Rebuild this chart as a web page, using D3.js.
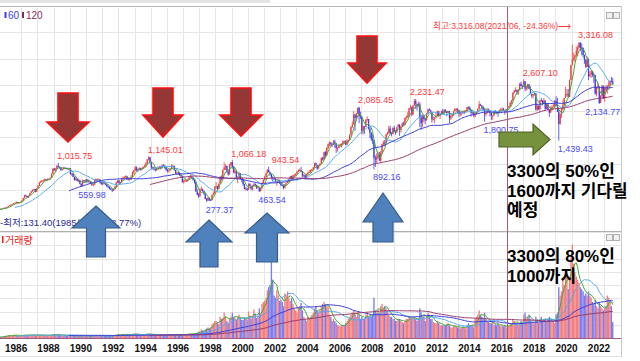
<!DOCTYPE html>
<html><head><meta charset="utf-8">
<script src="https://cdn.jsdelivr.net/npm/d3@7"></script>
<style>body{margin:0;background:#fff;}svg{display:block;}</style>
</head><body><svg id="c" width="640" height="361"></svg>
<script>
// ---------------- DATA (monthly, from 1985-01) ----------------
const firstMonth = [1985, 0];
const firstOpen = 142;
const close = [
139,135,133,137,140,137,139,139,138,142,150,163,
160,175,195,210,222,228,250,258,270,250,262,272,
300,345,400,385,360,390,440,475,500,520,465,525,
575,640,660,670,680,700,690,700,710,730,810,907,
880,900,960,940,925,880,900,925,915,910,905,909,
800,810,750,690,720,670,690,620,580,680,665,696,
690,660,660,620,600,600,700,680,700,700,640,610,
650,630,610,570,550,530,510,490,520,560,640,678,
630,640,720,730,740,760,700,720,700,750,830,866,
930,890,880,920,890,910,940,960,1010,1080,1120,1027,
930,930,900,880,900,920,930,920,970,960,920,882,
870,880,900,960,960,880,820,830,820,780,760,651,
680,680,680,700,740,750,740,690,650,470,410,376,
506,514,481,433,333,297,350,311,310,408,434,562,
570,520,620,750,720,880,930,960,850,800,980,1028,
940,830,860,720,730,820,710,690,610,520,530,504,
620,580,520,580,610,590,540,550,480,530,630,694,
750,820,880,840,800,740,720,710,650,660,680,628,
590,580,540,600,630,670,710,760,700,780,790,810,
850,880,880,860,770,780,720,800,830,840,870,896,
930,1010,970,910,970,1000,1110,1080,1220,1160,1300,1379,
1400,1370,1360,1420,1390,1300,1300,1350,1370,1370,1430,1434,
1360,1420,1450,1540,1700,1740,1930,1870,1950,2060,1900,1897,
1620,1710,1700,1830,1850,1670,1590,1470,1450,1110,1080,1124,
1160,1060,1210,1370,1400,1390,1560,1590,1670,1580,1560,1682,
1600,1590,1690,1740,1640,1700,1760,1740,1870,1880,1900,2051,
2069,1940,2107,2190,2140,2100,2130,1880,1770,1910,1850,1826,
1955,2030,2014,1980,1840,1850,1880,1905,1996,1912,1932,1997,
1961,2026,2005,1964,2001,1863,1914,1926,1997,2039,2044,2011,
1941,1980,1985,1961,1995,2002,2076,2068,2020,1964,1981,1916,
1949,1985,2041,2127,2114,2074,2030,1941,1963,2029,1991,1961,
1912,1917,1996,1994,1983,1970,2016,2034,2043,2008,1983,2026,
2067,2091,2160,2205,2347,2392,2402,2363,2394,2523,2476,2467,
2566,2427,2445,2515,2423,2326,2295,2322,2343,2029,2096,2041,
2204,2195,2141,2204,2041,2130,2024,1967,2063,2083,2087,2197,
2119,1987,1754,1947,2030,2108,2249,2326,2327,2267,2591,2873,
2976,3013,3061,3147,3204,3296,3202,3199,3068,2970,2839,2977,
2663,2699,2757,2695,2685,2332,2451,2472,2155,2293,2472,2236,
2425,2412,2476,2501,2577,2564,2508];
const high = [
142,140,137,139,142,141,141,141,141,143,152,165,
166,178,198,215,228,232,255,265,280,272,265,275,
305,350,410,410,390,395,445,480,510,525,520,530,
590,655,680,690,700,715,710,720,720,740,815,910,
920,915,970,1016,950,930,910,935,930,925,915,920,
910,830,820,755,760,725,705,695,625,700,690,700,
710,710,680,665,630,610,710,720,715,720,700,650,
660,670,640,620,585,570,545,520,530,580,660,690,
690,660,730,760,760,780,770,740,730,780,850,880,
960,950,900,930,920,930,950,980,1030,1090,1145,1130,
1020,950,940,910,920,940,960,950,985,990,970,930,
900,890,920,986,980,960,885,850,840,830,790,765,
700,710,700,710,760,790,780,740,700,660,520,440,
530,567,530,490,430,350,370,350,330,420,470,570,
650,580,625,760,780,890,1030,990,950,880,1000,1030,
1066,960,900,870,760,850,820,720,700,620,560,540,
630,620,580,590,630,630,600,580,555,540,640,700,
770,830,900,944,850,800,760,740,720,680,720,700,
640,610,600,610,640,680,720,770,770,790,800,820,
860,890,910,940,860,810,790,810,850,880,890,900,
940,1020,1020,970,980,1010,1120,1130,1230,1240,1310,1380,
1420,1410,1390,1450,1460,1390,1320,1360,1380,1390,1440,1440,
1440,1470,1460,1560,1710,1800,2000,1950,1960,2070,2085,1990,
1900,1720,1720,1850,1900,1850,1700,1600,1560,1450,1160,1200,
1230,1220,1240,1380,1440,1450,1560,1610,1720,1720,1600,1690,
1720,1640,1700,1760,1750,1720,1790,1800,1880,1920,1980,2060,
2120,2090,2110,2230,2231,2140,2180,2170,1930,1940,1930,1880,
1960,2040,2060,2030,1990,1900,1890,1960,2010,2000,1940,2010,
2040,2030,2030,2000,2010,2000,1920,1950,2010,2060,2060,2050,
2010,1980,2000,2010,2020,2020,2080,2090,2090,2020,1990,1990,
1960,1990,2050,2190,2140,2100,2090,2050,1990,2060,2050,2010,
1970,1930,2000,2020,1990,2010,2030,2060,2070,2060,2000,2040,
2090,2100,2170,2210,2360,2400,2450,2410,2420,2530,2560,2500,
2607,2570,2480,2520,2490,2470,2310,2330,2350,2330,2140,2110,
2210,2250,2210,2250,2190,2140,2130,2030,2090,2110,2150,2210,
2280,2250,2060,1950,2060,2200,2250,2460,2420,2420,2600,2880,
3266,3110,3070,3220,3250,3316,3310,3290,3210,3070,2990,3040,
3000,2760,2780,2760,2710,2680,2460,2550,2460,2300,2500,2490,
2470,2490,2490,2570,2580,2650,2630];
const low = [
131,132,131,133,136,135,136,136,136,137,141,149,
155,158,174,192,205,216,226,245,255,245,248,258,
268,298,340,370,350,352,385,440,465,490,455,460,
520,570,630,645,660,670,670,680,690,700,725,800,
860,850,895,920,905,860,870,890,900,895,885,875,
790,770,745,680,680,665,650,610,560,570,640,640,
640,640,640,610,580,570,600,670,670,690,620,600,
590,610,590,560,530,510,500,459,480,510,550,630,
620,600,640,700,700,720,690,680,680,700,740,800,
860,860,840,870,870,870,900,930,950,1000,1060,1000,
900,890,870,850,860,880,900,890,910,940,900,860,
830,830,860,900,930,870,800,800,790,770,740,640,
620,650,650,660,700,730,720,680,620,470,400,350,
376,480,470,410,320,277,290,290,290,300,400,430,
520,500,520,620,680,700,880,880,830,770,790,950,
910,820,810,700,630,720,700,650,580,510,490,480,
505,570,500,490,570,570,520,530,464,470,530,630,
680,740,810,830,770,700,660,690,640,580,640,620,
580,570,512,530,590,630,650,700,690,680,740,760,
800,840,860,850,740,740,700,710,790,820,830,860,
870,920,960,880,900,960,1000,1060,1070,1110,1150,1280,
1330,1330,1320,1360,1300,1203,1230,1290,1320,1310,1360,1380,
1350,1360,1390,1450,1550,1680,1750,1620,1810,1940,1770,1850,
1560,1560,1570,1700,1800,1650,1490,1430,1370,892,940,1010,
1090,1050,1020,1190,1330,1340,1380,1540,1560,1560,1520,1570,
1600,1550,1600,1690,1530,1590,1690,1720,1750,1840,1870,1890,
2030,1900,1920,2100,2040,2010,2070,1700,1645,1700,1800,1750,
1820,1950,2000,1960,1780,1820,1770,1880,1920,1900,1850,1930,
1940,1940,1970,1900,1960,1770,1830,1870,1910,2000,1990,1960,
1890,1900,1920,1950,1940,1980,2000,2030,2010,1900,1930,1880,
1880,1930,1980,2040,2100,2030,2010,1801,1900,1950,1970,1900,
1830,1835,1910,1970,1940,1890,1960,2010,1990,2000,1930,1960,
2020,2060,2080,2130,2190,2330,2370,2310,2310,2400,2470,2420,
2470,2380,2390,2410,2420,2320,2250,2240,2300,2010,2000,2020,
1990,2180,2110,2140,2010,2040,2020,1890,1990,2010,2080,2070,
2100,1980,1439,1740,1870,2010,2100,2250,2280,2260,2280,2590,
2870,2950,2930,3050,3040,3190,3140,3060,3020,2900,2820,2840,
2590,2650,2630,2650,2540,2310,2280,2420,2135,2180,2270,2230,
2180,2370,2330,2450,2470,2540,2500];
const volume = [
1,1,1,1,1,1,1,1,1,1,1.5,2,
2,2,2.5,2.5,2,2,3,3,3,2,2,2,
2.5,3,3,3,2.5,2.5,3,3,3,3,2.5,2.5,
3,3,3,2.5,2.5,2.5,2.5,2.5,2.5,2.5,3,3.5,
3.5,3,3,3.5,3,2.5,2.5,2.5,2.5,2.5,2.5,2.5,
2.5,2,2,2,2,2,2,2,2,2.5,2,2,
2,2,2,2,2,2,2.5,2.5,2.5,2.5,2,2,
2,2,2,2,2,2,2,2,2.5,3,3,3.5,
3,3,3.5,3.5,3.5,3.5,3,3,3,3.5,4,4,
4,3.5,3,3,3,3,3.5,3.5,3.5,4,4,3.5,
3,3,3,2.5,2.5,3,3,3,3.5,3.5,3,3,
3,3,3,3.5,3.5,3,3,3,3,3,3,3,
3.5,3.5,3.5,3.5,4,4,4,4,4,4.5,5,6,
6,8,7,6,8,9,10,9,10,13,14,16,
16,14,13,20,18,19,24,20,16,14,18,20,
24,20,19,17,20,22,19,17,17,19,19,17,
25,21,18,21,27,23,19,21,28,23,32,34,
35,38,45,48,50,72,55,40,38,45,40,35,
36,34,30,42,40,44,38,35,38,32,28,26,
24,28,30,33,26,20,18,16,20,18,20,22,
24,28,30,25,24,26,30,32,34,32,30,30,
22,20,16,18,16,14,12,12,11,12,12,12,
14,16,18,20,22,24,26,22,20,24,22,18,
20,18,18,22,24,20,20,20,22,38,26,24,
26,24,30,32,28,30,28,26,22,20,20,18,
18,16,16,18,18,16,15,14,16,18,18,20,
20,18,18,20,18,16,18,28,24,20,20,16,
20,24,22,18,18,15,14,14,16,14,12,12,
12,12,12,13,14,12,10,10,11,12,11,10,
10,9,10,11,10,9,12,14,12,12,12,10,
18,20,22,26,22,20,18,24,18,16,15,14,
14,15,12,13,12,14,12,11,12,11,12,10,
12,11,13,14,18,16,14,14,12,14,16,15,
22,24,18,20,22,18,14,14,14,20,18,14,
18,20,16,18,18,16,18,20,18,16,16,14,
22,24,48,40,44,55,50,64,60,46,55,76,
88,70,62,58,55,52,48,46,44,40,42,40,
44,40,38,34,32,36,30,28,34,30,28,26,
28,30,40,38,34,30,15];
const yearTicks = [1986,1988,1990,1992,1994,1996,1998,2000,2002,2004,2006,2008,2010,2012,2014,2016,2018,2020,2022];
const maPeriods = [5, 20, 60, 120];
const extremeLabels = [
  {text:"1,015.75", ym:[1989,3], value:1015.75, kind:"high"},
  {text:"1,145.01", ym:[1994,10], value:1145.01, kind:"high"},
  {text:"1,066.18", ym:[2000,0], value:1066.18, kind:"high"},
  {text:"943.54",   ym:[2002,3], value:943.54, kind:"high"},
  {text:"2,085.45", ym:[2007,10], value:2085.45, kind:"high"},
  {text:"2,231.47", ym:[2011,4], value:2231.47, kind:"high"},
  {text:"2,607.10", ym:[2018,0], value:2607.10, kind:"high"},
  {text:"3,316.08", ym:[2021,5], value:3316.08, kind:"high"},
  {text:"559.98",   ym:[1990,8], value:559.98, kind:"low"},
  {text:"277.37",   ym:[1998,5], value:277.37, kind:"low"},
  {text:"463.54",   ym:[2001,8], value:463.54, kind:"low"},
  {text:"892.16",   ym:[2008,9], value:892.16, kind:"low"},
  {text:"1,800.75", ym:[2015,7], value:1800.75, kind:"low"},
  {text:"1,439.43", ym:[2020,2], value:1439.43, kind:"low"},
  {text:"2,134.77", ym:[2022,8], value:2134.77, kind:"low"}
];
const labelNudge = {"943.54":4, "2,231.47":-5, "2,134.77":-13, "559.98":-2};
const maxText = "최고:3,316.08(2021/06, -24.36%)⟶";
const minText = "-최저:131.40(1985/01, 1808.77%)";
const note1 = ["3300의 50%인", "1600까지 기다릴", "예정"];
const note2 = ["3300의 80%인", "1000까지"];

// ---------------- LAYOUT ----------------
const svg = d3.select("#c");
const RIGHT = 621;
const months = d3.range(close.length).map(i => new Date(firstMonth[0], firstMonth[1] + i, 1));
const x = d3.scaleTime().domain([new Date(1986,0,1), new Date(2022,0,1)]).range([5, 5 + 16.19*36]);
const cx = i => x(months[i]) + 0.67;
const yP = d3.scaleLinear().domain([0, 3500]).range([216.3, 32.2]);
const yV = d3.scaleLinear().domain([0, 100]).range([338, 232]);
const UP = "#f03a3a", DN = "#3a3af0";
const maColors = ["#44aa33", "#55aaee", "#3a3ad8", "#963a6a"];
const open = close.map((c,i) => i === 0 ? firstOpen : close[i-1]);

const defs = svg.append("defs");
defs.append("clipPath").attr("id","cp").append("rect").attr("x",0).attr("y",8).attr("width",RIGHT).attr("height",223);
defs.append("clipPath").attr("id","cv").append("rect").attr("x",0).attr("y",233).attr("width",RIGHT).attr("height",106);

// top strip
svg.append("rect").attr("x",0).attr("y",0).attr("width",270).attr("height",3).attr("fill","#e4e4e4");
svg.append("line").attr("x1",0).attr("x2",RIGHT+1).attr("y1",6.5).attr("y2",6.5).attr("stroke","#b8b8b8");

// grids
const grid = svg.append("g").attr("stroke","#e6e6e6").attr("stroke-width",1);
d3.range(1987, 2024).forEach(Y => {
  const gx = Math.round(x(new Date(Y,0,1))) + 0.5;
  grid.append("line").attr("x1",gx).attr("x2",gx).attr("y1",8).attr("y2",338);
});
d3.range(500, 3501, 500).forEach(v => {
  const gy = Math.round(yP(v)) + 0.5;
  grid.append("line").attr("x1",0).attr("x2",RIGHT).attr("y1",gy).attr("y2",gy);
});
d3.range(12.5, 100.1, 12.5).forEach(v => {
  const gy = Math.round(yV(v)) + 0.5;
  grid.append("line").attr("x1",0).attr("x2",RIGHT).attr("y1",gy).attr("y2",gy);
});

// panel borders
svg.append("line").attr("x1",0).attr("x2",RIGHT).attr("y1",231.5).attr("y2",231.5).attr("stroke","#b0b0b0");
svg.append("line").attr("x1",RIGHT+0.5).attr("x2",RIGHT+0.5).attr("y1",6).attr("y2",357).attr("stroke","#c8c8c8");
svg.append("line").attr("x1",0).attr("x2",RIGHT).attr("y1",356.5).attr("y2",356.5).attr("stroke","#e0e0e0");

// ----- price candles -----
const pg = svg.append("g").attr("clip-path","url(#cp)");
close.forEach((c,i) => {
  const col = c >= open[i] ? UP : DN;
  const xx = cx(i);
  pg.append("line").attr("x1",xx).attr("x2",xx).attr("y1",yP(high[i])).attr("y2",yP(low[i]))
    .attr("stroke",col).attr("stroke-width",0.8);
  const t = yP(Math.max(c, open[i])), b = yP(Math.min(c, open[i]));
  pg.append("rect").attr("x",xx-0.6).attr("width",1.2).attr("y",t).attr("height",Math.max(0.8,b-t)).attr("fill",col);
});
function movingAvg(arr, n){ return arr.map((d,i) => i < n-1 ? null : d3.mean(arr.slice(i-n+1, i+1))); }
const lineGen = (ys) => d3.line().defined(d => d != null).x((d,i) => cx(i)).y(d => ys(d));
maPeriods.forEach((n,k) => {
  pg.append("path").attr("d", lineGen(yP)(movingAvg(close,n))).attr("fill","none")
    .attr("stroke",maColors[k]).attr("stroke-width",1);
});

// ----- volume -----
const vg = svg.append("g").attr("clip-path","url(#cv)");
volume.forEach((v,i) => {
  const col = close[i] >= open[i] ? "#f47e7e" : "#7c7cf0";
  vg.append("rect").attr("x",cx(i)-0.68).attr("width",1.36).attr("y",yV(v)).attr("height",yV(0)-yV(v)).attr("fill",col);
});
maPeriods.forEach((n,k) => {
  vg.append("path").attr("d", lineGen(yV)(movingAvg(volume,n))).attr("fill","none")
    .attr("stroke",maColors[k]).attr("stroke-width",1);
});
svg.append("line").attr("x1",0).attr("x2",RIGHT).attr("y1",338.5).attr("y2",338.5).attr("stroke","#a05a7a");

// x axis labels
const lf = "'Liberation Sans','Noto Sans CJK KR',sans-serif";
yearTicks.forEach(Y => {
  svg.append("text").attr("x",x(new Date(Y,0,1))).attr("y",352).attr("font-family",lf)
    .attr("font-weight","bold").attr("font-size",10).attr("fill","#111").text(Y);
});

// legends
svg.append("rect").attr("x",4.5).attr("y",12).attr("width",2).attr("height",6).attr("fill","#3a3af0");
svg.append("text").attr("x",8).attr("y",18.5).attr("font-family",lf).attr("font-size",10).attr("fill","#3a3af0").text("60");
svg.append("rect").attr("x",22).attr("y",12).attr("width",2).attr("height",6).attr("fill","#8a2a5a");
svg.append("text").attr("x",26).attr("y",18.5).attr("font-family",lf).attr("font-size",10).attr("fill","#8a2a5a").text("120");
svg.append("rect").attr("x",2).attr("y",236).attr("width",1.5).attr("height",7).attr("fill","#e82020");
svg.append("text").attr("x",5).attr("y",243.5).attr("font-family",lf).attr("font-size",10).attr("fill","#e82020").text("거래량");

// panel buttons
[12, 234].forEach(by => {
  [606,613].forEach(bx => svg.append("rect").attr("x",bx+0.5).attr("y",by+0.5).attr("width",6).attr("height",6)
    .attr("fill","#f0f0f0").attr("stroke","#b0b0b0"));
});

// cursor line
svg.append("line").attr("x1",507.5).attr("x2",507.5).attr("y1",7).attr("y2",338).attr("stroke","#a05a7a").attr("stroke-width",1);

// extreme labels
extremeLabels.forEach(d => {
  const i = (d.ym[0]-firstMonth[0])*12 + d.ym[1];
  const tx = cx(i) - 1 + (labelNudge[d.text] || 0);
  const ty = d.kind === "high" ? yP(d.value) - 3.5 : yP(d.value) + 11;
  svg.append("text").attr("x",tx).attr("y",ty).attr("font-family",lf).attr("font-size",9)
    .attr("fill", d.kind === "high" ? "#ff3a3a" : "#4a4aff").text(d.text);
});
svg.append("text").attr("x",433).attr("y",28.5).attr("font-family",lf).attr("font-size",8.6).attr("fill","#ff3a3a").text(maxText);
svg.append("text").attr("x",0).attr("y",225.5).attr("font-family",lf).attr("font-size",9.5).attr("fill","#2a2a9a").text(minText);

// ----- arrows -----
function downArrow(c, top, headY, tip, sw, hw){
  return [[c-sw,top],[c+sw,top],[c+sw,headY],[c+hw,headY],[c,tip],[c-hw,headY],[c-sw,headY]];
}
function upArrow(c, tip, base, bottom, sw, hw){
  return [[c,tip],[c+hw,base],[c+sw,base],[c+sw,bottom],[c-sw,bottom],[c-sw,base],[c-hw,base]];
}
const poly = (pts, fill, stroke, sw) => svg.append("polygon").attr("points", pts.map(p=>p.join(",")).join(" "))
  .attr("fill",fill).attr("stroke",stroke).attr("stroke-width",sw).attr("stroke-linejoin","miter");
[[68,93,122,142,10,21],[163,88,115,137,10,20],[241,88,115,136,10,21],[367,36,63,83,10,19]]
  .forEach(a => poly(downArrow(...a), "#953735", "#ff1010", 1.6));
[[96,206,228,257,9.5,24],[209,220,242,267,9,23],[267,213,233,262,10.5,22],[383,193,222,242,10,20]]
  .forEach(a => poly(upArrow(...a), "#4f81bd", "#385d8a", 1.2));
poly([[499,132],[533,132],[533,124],[550,139.5],[533,155],[533,147],[499,147]], "#76923c", "#4f6228", 1.2);

// ----- notes -----
const nf = "'Liberation Sans','Noto Sans CJK KR',sans-serif";
function note(lines, y0){
  lines.forEach((s,k) => svg.append("text").attr("x",507).attr("y",y0 + k*19.5).attr("font-family",nf)
    .attr("font-weight","bold").attr("font-size",17).attr("fill","#000").text(s));
}
note(note1, 177);
note(note2, 262);
</script></body></html>
